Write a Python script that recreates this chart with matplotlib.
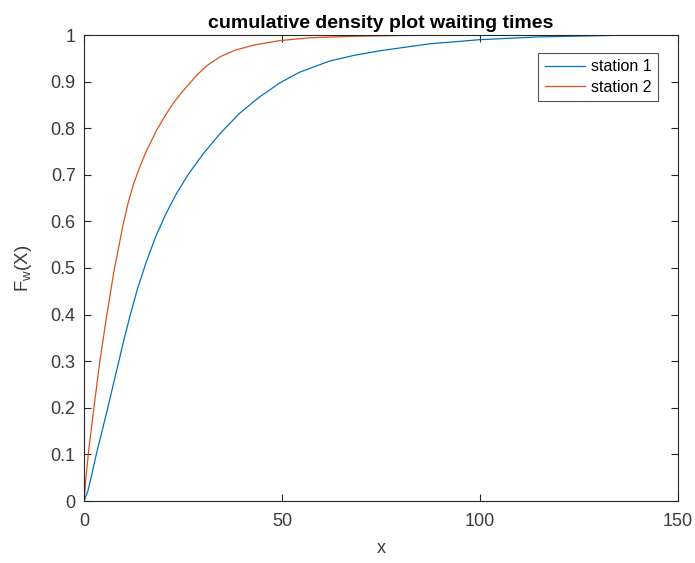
import matplotlib
matplotlib.use("Agg")
import matplotlib.pyplot as plt

plt.rcParams['font.family'] = ['Liberation Sans', 'DejaVu Sans']
plt.rcParams['mathtext.default'] = 'regular'

title = "cumulative density plot waiting times"
labels = ["station 1", "station 2"]

station1_x = [0, 1, 2, 3.1, 4.5, 6.0, 7.4, 8.8, 10.2, 11.7, 13.5, 15.6, 18, 20.6,
              23.5, 26.5, 30.1, 34.3, 39.3, 44, 49.4, 54.4, 62, 68, 74.6, 87.2,
              100, 115, 133]
station1_y = [0, 0.022, 0.058, 0.1, 0.148, 0.2, 0.25, 0.3, 0.35, 0.4, 0.455, 0.51,
              0.565, 0.615, 0.662, 0.703, 0.745, 0.788, 0.832, 0.865, 0.897, 0.92,
              0.944, 0.956, 0.966, 0.981, 0.99, 0.996, 0.999]

station2_x = [0, 0.5, 1.2, 2.5, 4.0, 5.6, 7.5, 9.8, 11.0, 12.5, 14.0, 15.8, 18.3,
              20.8, 22.5, 24.6, 28.4, 31, 34.3, 38, 42.7, 49.4, 57, 67, 80, 100, 133]
station2_y = [0, 0.05, 0.11, 0.2, 0.3, 0.39, 0.49, 0.59, 0.635, 0.68, 0.715, 0.752,
              0.795, 0.831, 0.853, 0.876, 0.913, 0.934, 0.953, 0.967, 0.978, 0.988,
              0.994, 0.997, 0.999, 1.0, 1.0]

xticks = [0, 50, 100, 150]
yticks = [0, 0.1, 0.2, 0.3, 0.4, 0.5, 0.6, 0.7, 0.8, 0.9, 1]
ytick_labels = ["0", "0.1", "0.2", "0.3", "0.4", "0.5", "0.6", "0.7", "0.8", "0.9", "1"]

fig = plt.figure(figsize=(6.95, 5.63), dpi=100)
ax = fig.add_axes([84/695, 62/563, 594/695, 466/563])

ax.plot(station1_x, station1_y, color='#0072BD', lw=0.9, label=labels[0])
ax.plot(station2_x, station2_y, color='#D95319', lw=0.9, label=labels[1])

ax.set_xlim(0, 150)
ax.set_ylim(0, 1)
ax.set_xticks(xticks)
ax.set_yticks(yticks)
ax.set_yticklabels(ytick_labels)

axcol = '#262626'
for s in ax.spines.values():
    s.set_color(axcol)
    s.set_linewidth(0.8)
ax.tick_params(direction='in', top=True, right=True, length=5, width=0.8,
               colors=axcol, labelcolor='#3a3a3a', labelsize=13)
ax.tick_params(axis='x', pad=9)
ax.tick_params(axis='y', pad=6)

ax.set_title(title, fontsize=14, fontweight='bold', color='black', pad=5)
ax.set_xlabel("x", fontsize=13, color='#3a3a3a', labelpad=7)
ax.set_ylabel("F$_{w}$(X)", fontsize=13.5, color='#3a3a3a', labelpad=12)

leg = ax.legend(loc='upper right', bbox_to_anchor=(1 - 20/594, 1 - 18/466),
                fontsize=11.5, frameon=True, fancybox=False, handlelength=2.5,
                borderaxespad=0, labelspacing=0.35, handletextpad=0.4,
                borderpad=0.4)
leg.get_frame().set_edgecolor('#262626')
leg.get_frame().set_linewidth(0.8)

fig.savefig("out.png", dpi=100, facecolor='white')
